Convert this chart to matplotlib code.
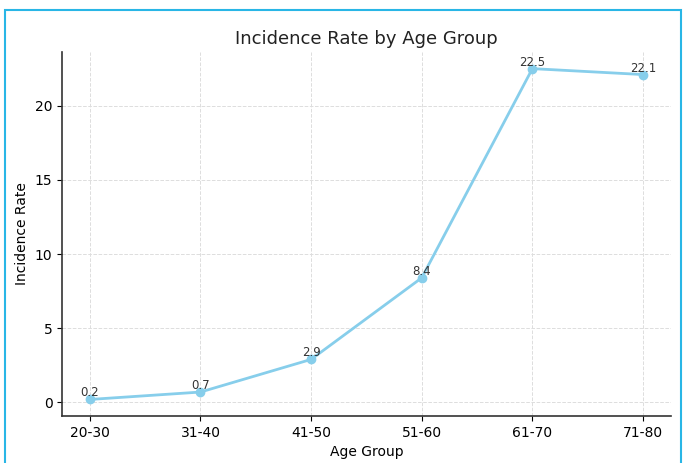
import matplotlib.pyplot as plt
from matplotlib.patches import Rectangle

# data
age_groups = ["20-30", "31-40", "41-50", "51-60", "61-70", "71-80"]
incidence = [0.2, 0.7, 2.9, 8.4, 22.5, 22.1]

fig = plt.figure(figsize=(6.83, 4.63), dpi=100)
ax = fig.add_axes([0.091, 0.1015, 0.891, 0.786])

ax.plot(age_groups, incidence, marker='o', color='skyblue', linewidth=2, markersize=6)
for i, v in enumerate(incidence):
    ax.text(i, v, f"{v}", ha='center', va='bottom', fontsize=8.5, color='#333333')

ax.set_title("Incidence Rate by Age Group", fontsize=13, color='#222222')
ax.set_xlabel("Age Group", fontsize=10)
ax.set_ylabel("Incidence Rate", fontsize=10)
ax.tick_params(labelsize=10)
ax.grid(True, linestyle='--', color='#dddddd', linewidth=0.7)
ax.spines['top'].set_visible(False)
ax.spines['right'].set_visible(False)
for s in ('left', 'bottom'):
    ax.spines[s].set_linewidth(1.2)
    ax.spines[s].set_color('#333333')

# blue frame around the picture
fig.patches.append(Rectangle((0.0073, -0.02), 0.99, 0.998, transform=fig.transFigure,
                             fill=False, edgecolor='#29b6e6', linewidth=1.5))

fig.savefig("out.png", dpi=100)
